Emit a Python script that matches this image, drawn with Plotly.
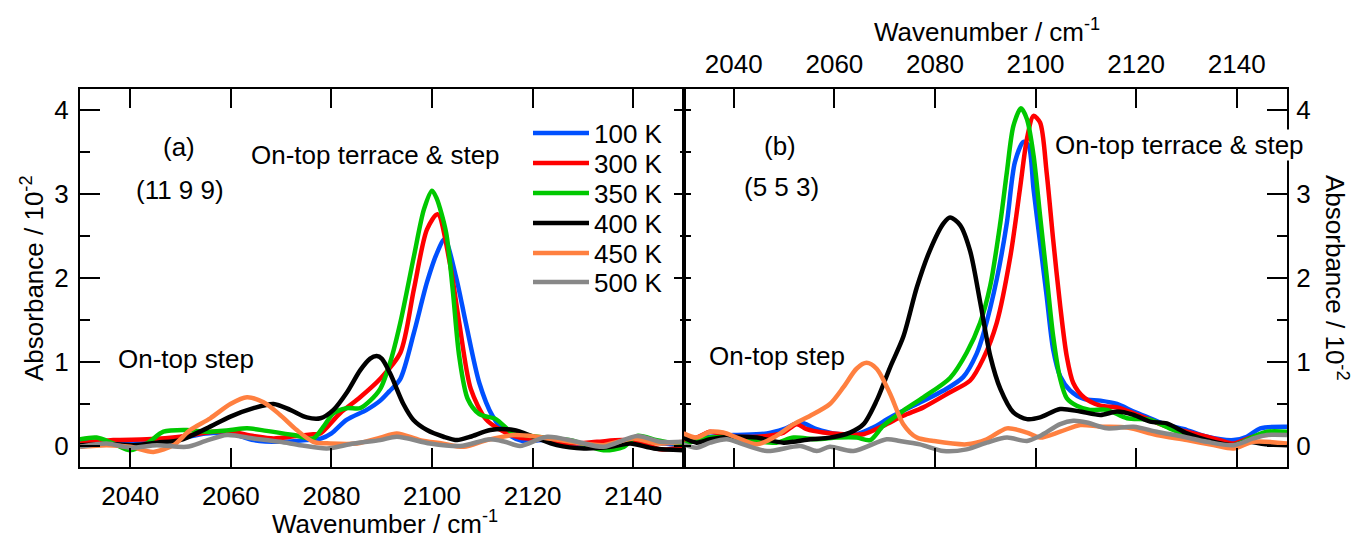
import plotly.graph_objects as go

# ---------------- data: panel (a) (11 9 9) ----------------
a_100_x = [2030, 2036, 2042, 2046, 2050, 2055, 2060, 2064.5, 2069.8, 2075, 2078, 2080, 2083, 2087, 2089.7, 2091.5, 2093.7, 2096.4, 2099, 2101, 2102.5, 2104.7, 2106.7, 2109.4, 2112, 2114.7, 2118, 2122, 2127.5, 2134, 2140.8, 2146, 2150]
a_100_y = [0.05, 0.05, 0.03, 0.05, 0.09, 0.15, 0.15, 0.07, 0.05, 0.07, 0.09, 0.15, 0.31, 0.43, 0.54, 0.65, 0.8, 1.35, 1.95, 2.3, 2.46, 2.03, 1.47, 0.75, 0.36, 0.16, 0.06, 0.07, 0.03, -0.01, 0.07, 0.03, 0.01]

a_300_x = [2030, 2036.6, 2043.3, 2049.9, 2056.5, 2059.9, 2064.5, 2068.5, 2073.1, 2076.4, 2077.8, 2081.7, 2085.7, 2089.7, 2093.7, 2096.4, 2099, 2101.1, 2103.5, 2105.4, 2107.7, 2110.7, 2113.4, 2117.4, 2122, 2127.5, 2132.8, 2138.1, 2142.1, 2145.4, 2150]
a_300_y = [0.03, 0.07, 0.08, 0.11, 0.17, 0.17, 0.12, 0.09, 0.12, 0.14, 0.15, 0.39, 0.58, 0.8, 1.11, 1.87, 2.58, 2.76, 2.19, 1.47, 0.68, 0.32, 0.2, 0.1, 0.08, 0.03, 0.05, 0.07, 0.03, -0.04, -0.01]

a_350_x = [2030, 2033.3, 2036.6, 2040, 2043.3, 2046.6, 2051.2, 2055.2, 2059.9, 2063.2, 2067.1, 2072.5, 2076.4, 2078.4, 2080.4, 2083, 2085.7, 2087.7, 2089.7, 2091.7, 2093.7, 2096.4, 2098.4, 2100, 2100.9, 2102.8, 2104.1, 2105.4, 2107.1, 2109.4, 2112.7, 2116, 2120.9, 2127.5, 2134.1, 2138.1, 2140.8, 2144.7, 2150]
a_350_y = [0.08, 0.1, 0.03, -0.05, 0.03, 0.17, 0.19, 0.17, 0.19, 0.21, 0.18, 0.13, 0.09, 0.23, 0.39, 0.45, 0.45, 0.54, 0.68, 1.0, 1.47, 2.26, 2.82, 3.04, 2.95, 2.54, 1.87, 1.07, 0.56, 0.38, 0.32, 0.16, 0.11, 0.07, -0.05, -0.01, 0.12, 0.07, 0.01]

a_400_x = [2030, 2036.6, 2040.6, 2045.3, 2049.9, 2055.2, 2059.9, 2064.5, 2068.5, 2071.8, 2075.1, 2077.8, 2080.4, 2083.1, 2085.7, 2087.7, 2089, 2090, 2091.7, 2094.3, 2096.3, 2099, 2102.3, 2105, 2107.6, 2111.6, 2116.2, 2120.2, 2124.8, 2130.2, 2135.5, 2139.4, 2144.1, 2150]
a_400_y = [0.01, 0.02, 0.01, 0.04, 0.07, 0.21, 0.35, 0.45, 0.5, 0.43, 0.34, 0.33, 0.43, 0.64, 0.9, 1.04, 1.07, 1.04, 0.86, 0.5, 0.31, 0.19, 0.11, 0.07, 0.11, 0.19, 0.19, 0.11, 0.01, -0.03, -0.01, 0.03, -0.03, -0.05]

a_450_x = [2030, 2035.3, 2040, 2044.6, 2048.6, 2051.9, 2055.9, 2059.9, 2063.2, 2066.5, 2069.8, 2073.1, 2076.4, 2079.8, 2085.1, 2089.7, 2093, 2097.6, 2102, 2106.3, 2110.9, 2116.2, 2120.9, 2127.5, 2134.1, 2140.1, 2144.7, 2150]
a_450_y = [-0.01, 0.01, -0.01, -0.07, 0.01, 0.19, 0.33, 0.5, 0.58, 0.52, 0.37, 0.19, 0.05, 0.03, 0.03, 0.1, 0.15, 0.07, 0.03, -0.01, 0.07, 0.13, 0.11, 0.05, 0.01, 0.09, 0.03, 0.05]

a_500_x = [2030, 2035.3, 2040, 2045.3, 2051.2, 2055, 2059.2, 2064.5, 2069.8, 2073.8, 2079.1, 2084.4, 2089.7, 2093, 2099.6, 2105.6, 2111.6, 2114.5, 2117.5, 2122.9, 2128.8, 2134.1, 2140.8, 2145.4, 2150]
a_500_y = [-0.01, 0.03, -0.02, 0.01, -0.01, 0.06, 0.13, 0.09, 0.05, 0.01, -0.03, 0.03, 0.07, 0.11, 0.03, 0.0, 0.08, 0.05, 0.0, 0.11, 0.05, -0.01, 0.12, 0.05, 0.05]

# ---------------- data: panel (b) (5 5 3) ----------------
b_100_x = [2030, 2035.3, 2039.9, 2046.6, 2049.9, 2053.2, 2056.5, 2059.8, 2064.4, 2067.7, 2071.1, 2076.4, 2081.7, 2085.6, 2088.3, 2089.7, 2092.3, 2094.3, 2095.9, 2097.6, 2098.6, 2099.6, 2100.9, 2102.2, 2103.5, 2104.9, 2106.9, 2109.6, 2112.9, 2116.2, 2119.5, 2122.8, 2126.1, 2130.1, 2134.1, 2139.4, 2142, 2144.7, 2150]
b_100_y = [0.06, 0.11, 0.13, 0.15, 0.2, 0.28, 0.2, 0.15, 0.14, 0.22, 0.34, 0.5, 0.66, 0.82, 1.1, 1.35, 1.99, 2.66, 3.38, 3.62, 3.58, 3.06, 2.42, 1.79, 1.15, 0.83, 0.66, 0.56, 0.54, 0.5, 0.41, 0.33, 0.25, 0.19, 0.11, 0.07, 0.11, 0.21, 0.23]

b_300_x = [2030, 2032.6, 2035.3, 2037.9, 2040, 2046.6, 2049.9, 2052.5, 2054.5, 2057.8, 2061.8, 2065.8, 2069.7, 2073.7, 2077.7, 2083, 2087, 2089.6, 2092.3, 2095, 2096.9, 2098.3, 2099.6, 2100.9, 2102.2, 2103.5, 2104.9, 2106.2, 2107.5, 2109.6, 2112.9, 2116.2, 2119.5, 2122.8, 2126.1, 2130.1, 2134.1, 2136.7, 2139.4, 2143.3, 2150]
b_300_y = [0.06, 0.1, 0.17, 0.14, 0.11, 0.12, 0.16, 0.26, 0.2, 0.16, 0.14, 0.14, 0.24, 0.36, 0.46, 0.64, 0.78, 1.04, 1.47, 2.26, 3.06, 3.66, 3.93, 3.85, 3.26, 2.46, 1.67, 1.07, 0.75, 0.58, 0.48, 0.46, 0.39, 0.31, 0.23, 0.17, 0.11, 0.07, 0.03, 0.11, 0.15]

b_350_x = [2030, 2035.3, 2039.9, 2044.6, 2048.5, 2051.9, 2056.5, 2060.5, 2064.4, 2067.1, 2069.7, 2073.7, 2077.7, 2083, 2086.3, 2089, 2091, 2093, 2094.3, 2095.6, 2097.1, 2098.3, 2099.6, 2100.9, 2102.2, 2103.5, 2104.9, 2106.2, 2108.2, 2110.8, 2114.2, 2118.2, 2122.8, 2127.4, 2132.7, 2139.4, 2143.3, 2146, 2150]
b_350_y = [0.02, 0.1, 0.1, 0.06, 0.04, 0.1, 0.08, 0.1, 0.1, 0.07, 0.24, 0.42, 0.58, 0.81, 1.11, 1.47, 1.91, 2.66, 3.26, 3.81, 4.02, 3.89, 3.46, 2.74, 2.03, 1.31, 0.8, 0.57, 0.48, 0.43, 0.43, 0.33, 0.31, 0.19, 0.07, 0.01, 0.11, 0.17, 0.17]

b_400_x = [2030, 2032.6, 2035.3, 2039.9, 2044.6, 2049.9, 2055.2, 2059.1, 2063.1, 2065.8, 2068.4, 2071.1, 2073.7, 2076.4, 2079, 2081.7, 2083, 2085, 2087, 2089, 2091, 2093, 2095.6, 2098.3, 2100.9, 2104.9, 2108.9, 2112.9, 2116.2, 2119.5, 2122.8, 2126.1, 2130.1, 2134.1, 2139.4, 2142, 2146, 2150]
b_400_y = [0.1, 0.04, 0.08, 0.11, 0.1, 0.04, 0.08, 0.1, 0.16, 0.26, 0.54, 0.94, 1.3, 1.89, 2.33, 2.65, 2.72, 2.63, 2.32, 1.71, 1.07, 0.68, 0.4, 0.32, 0.34, 0.44, 0.41, 0.37, 0.41, 0.37, 0.29, 0.27, 0.15, 0.07, 0.01, 0.05, 0.02, 0.01]

b_450_x = [2030, 2032.6, 2035.3, 2037.9, 2040.6, 2044.6, 2047.9, 2051.9, 2055.2, 2059.1, 2061.8, 2064.4, 2066.4, 2068.4, 2071.1, 2073.7, 2076.4, 2079.7, 2086.3, 2090.3, 2094.3, 2098.3, 2100.9, 2104.9, 2108.9, 2112.9, 2118.2, 2124.1, 2130.1, 2135.4, 2139.4, 2143.3, 2150]
b_450_y = [0.15, 0.1, 0.17, 0.16, 0.1, 0.02, 0.1, 0.26, 0.36, 0.5, 0.7, 0.92, 0.99, 0.92, 0.62, 0.26, 0.1, 0.06, 0.02, 0.08, 0.21, 0.16, 0.1, 0.17, 0.25, 0.23, 0.22, 0.13, 0.07, 0.01, -0.03, 0.05, 0.03]

b_500_x = [2030, 2032.6, 2035.3, 2038.6, 2041.9, 2046.6, 2053.2, 2056.5, 2059.1, 2063.8, 2070.4, 2073, 2077, 2081.7, 2086.3, 2090.3, 2094.3, 2098.3, 2100.9, 2104.9, 2107.5, 2110.2, 2114.2, 2119.5, 2124.1, 2129.4, 2134.1, 2139.4, 2143.3, 2146, 2150]
b_500_y = [0.02, -0.02, 0.04, 0.08, 0.02, -0.06, 0.0, -0.06, -0.01, -0.06, 0.08, 0.06, 0.02, -0.06, -0.04, 0.04, 0.1, 0.06, 0.12, 0.26, 0.3, 0.28, 0.21, 0.23, 0.17, 0.11, 0.05, 0.01, 0.09, 0.13, 0.13]

series_names = ["100 K", "300 K", "350 K", "400 K", "450 K", "500 K"]
series_colors = ["#0050FF", "#FF0000", "#00C800", "#000000", "#FF8040", "#888888"]
panel_a = [(a_100_x, a_100_y), (a_300_x, a_300_y), (a_350_x, a_350_y),
           (a_400_x, a_400_y), (a_450_x, a_450_y), (a_500_x, a_500_y)]
panel_b = [(b_100_x, b_100_y), (b_300_x, b_300_y), (b_350_x, b_350_y),
           (b_400_x, b_400_y), (b_450_x, b_450_y), (b_500_x, b_500_y)]

x_ticks = [2040, 2060, 2080, 2100, 2120, 2140]
y_ticks = [0, 1, 2, 3, 4]

FONT = "Liberation Sans, Arial, sans-serif"
W, H = 1360, 539
ML, MR, MT, MB = 80, 73, 89, 72
PW, PH = W - ML - MR, H - MT - MB

def px_to_paper_x(px):
    return (px - ML) / PW

def px_to_paper_y(py):
    return (H - MB - py) / PH

LW = 4.5
fig = go.Figure()
legend_ids = ["legend", "legend2", "legend3", "legend4", "legend5", "legend6"]
for i, (name, col) in enumerate(zip(series_names, series_colors)):
    xs, ys = panel_a[i]
    fig.add_trace(go.Scatter(x=xs, y=ys, mode="lines", name=name,
                             line=dict(color=col, width=LW, shape="spline", smoothing=0.8),
                             xaxis="x", yaxis="y", legend=legend_ids[i],
                             showlegend=True, hoverinfo="skip"))
for i, (name, col) in enumerate(zip(series_names, series_colors)):
    xs, ys = panel_b[i]
    fig.add_trace(go.Scatter(x=xs, y=ys, mode="lines", name=name,
                             line=dict(color=col, width=LW, shape="spline", smoothing=0.8),
                             xaxis="x2", yaxis="y2", showlegend=False, hoverinfo="skip"))
# empty helper traces so the tick-only overlay axes get their subplots
fig.add_trace(go.Scatter(x=[], y=[], xaxis="x", yaxis="y3", showlegend=False, hoverinfo="skip"))
fig.add_trace(go.Scatter(x=[], y=[], xaxis="x2", yaxis="y4", showlegend=False, hoverinfo="skip"))

tickfont = dict(family=FONT, size=26, color="black")
xr = [2030, 2150]
yr = [-0.25, 4.25]

common_x = dict(range=xr, tickvals=x_ticks, ticks="inside", ticklen=19, tickwidth=2,
                tickcolor="black", showline=True, linewidth=2, linecolor="black",
                mirror="ticks", showgrid=False, zeroline=False, tickfont=tickfont)
common_y = dict(range=yr, tickvals=y_ticks, ticks="inside", ticklen=20, tickwidth=2,
                tickcolor="black", showline=True, linewidth=2, linecolor="black",
                mirror=True, showgrid=False, zeroline=False, tickfont=tickfont,
                minor=dict(ticks="inside", ticklen=10, tickwidth=2, tickcolor="black",
                           dtick=0.5, tick0=0))

fig.update_layout(
    width=W, height=H,
    margin=dict(l=ML, r=MR, t=MT, b=MB),
    paper_bgcolor="white", plot_bgcolor="white",
    font=dict(family=FONT, size=26, color="black"),
    xaxis=dict(domain=[0, 0.5], anchor="y", side="bottom", ticklabelstandoff=5, **common_x),
    yaxis=dict(domain=[0, 1], anchor="x", side="left", ticklabelstandoff=4, **common_y),
    xaxis2=dict(domain=[0.5, 1], anchor="y2", side="top", ticklabelstandoff=4, **common_x),
    yaxis2=dict(domain=[0, 1], anchor="x2", side="right", ticklabelstandoff=2, **common_y),
    yaxis3=dict(overlaying="y", anchor="x", side="right", range=yr, tickvals=y_ticks,
                ticks="inside", ticklen=10, tickwidth=2, tickcolor="black",
                showticklabels=False, showline=False, showgrid=False, zeroline=False,
                minor=dict(ticks="inside", ticklen=4, tickwidth=2, tickcolor="black",
                           dtick=0.5, tick0=0)),
    yaxis4=dict(overlaying="y2", anchor="x2", side="left", range=yr, tickvals=y_ticks,
                ticks="inside", ticklen=7, tickwidth=2, tickcolor="black",
                showticklabels=False, showline=False, showgrid=False, zeroline=False,
                minor=dict(ticks="inside", ticklen=7, tickwidth=2, tickcolor="black",
                           dtick=0.5, tick0=0)),
)

# one legend per entry for tight row spacing
row_px = [133, 163, 193, 223, 253, 282]
for lid, py in zip(legend_ids, row_px):
    fig.update_layout({lid: dict(x=px_to_paper_x(528), y=px_to_paper_y(py),
                                 xanchor="left", yanchor="middle",
                                 bgcolor="rgba(0,0,0,0)", borderwidth=0,
                                 itemwidth=56,
                                 font=dict(family=FONT, size=26, color="black"))})

ann_font = dict(family=FONT, size=26, color="black")
# text labels in data coordinates
labels_a = [("(a)", 2049.7, 3.56), ("(11 9 9)", 2049.9, 3.05),
            ("On-top terrace &amp; step", 2088.7, 3.47), ("On-top step", 2051.1, 1.04)]
labels_b = [("(b)", 2049.1, 3.57), ("(5 5 3)", 2049.5, 3.08),
            ("On-top step", 2048.5, 1.07)]
for t, x, y in labels_a:
    fig.add_annotation(text=t, x=x, y=y, xref="x", yref="y", showarrow=False,
                       xanchor="center", yanchor="middle", font=ann_font)
for t, x, y in labels_b:
    fig.add_annotation(text=t, x=x, y=y, xref="x2", yref="y2", showarrow=False,
                       xanchor="center", yanchor="middle", font=ann_font)
fig.add_annotation(text="On-top terrace &amp; step", x=2128.7, y=3.58, xref="x2", yref="y2",
                   showarrow=False, xanchor="center", yanchor="middle",
                   font=ann_font, bgcolor="white", borderpad=0)

# axis titles
title_kw = dict(xref="paper", yref="paper", showarrow=False, xanchor="center",
                yanchor="middle", font=ann_font)
fig.add_annotation(text="Absorbance / 10<sup>-2</sup>", x=px_to_paper_x(32), y=0.5,
                   textangle=-90, **title_kw)
fig.add_annotation(text="Absorbance / 10<sup>-2</sup>", x=px_to_paper_x(1337), y=0.5,
                   textangle=90, **title_kw)
fig.add_annotation(text="Wavenumber / cm<sup>-1</sup>", x=px_to_paper_x(385), y=px_to_paper_y(522),
                   **title_kw)
fig.add_annotation(text="Wavenumber / cm<sup>-1</sup>", x=px_to_paper_x(987), y=px_to_paper_y(30),
                   **title_kw)

fig.write_html("out.html")
